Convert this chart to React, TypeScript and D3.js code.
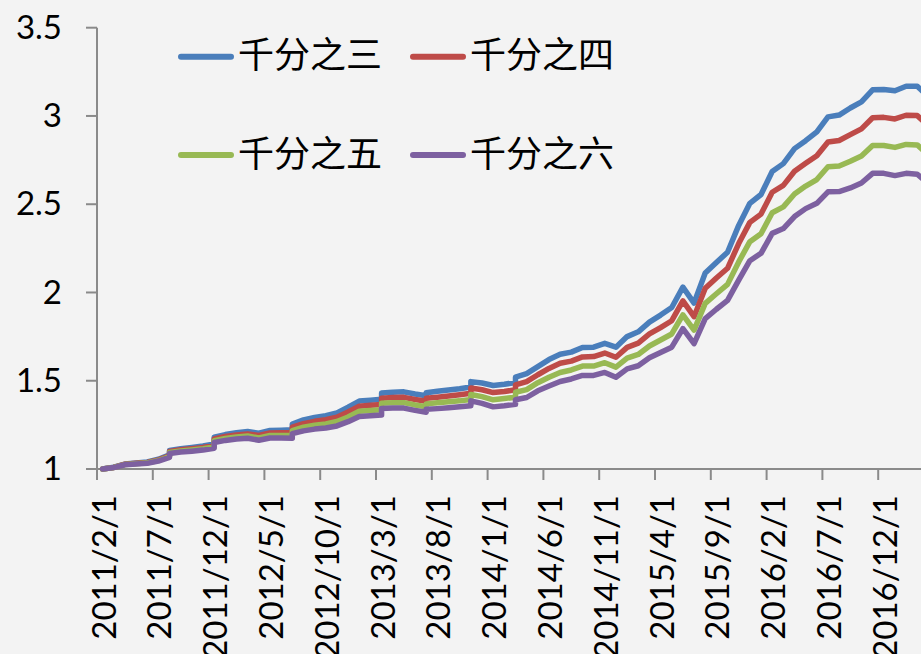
import React from 'react';
import * as d3 from 'd3';

const W = 921;
const H = 654;

// Observation dates (two points inside one month draw a vertical step, as on a month-based date axis)
const dates = [
  '2011/2/1', '2011/3/1', '2011/4/1', '2011/5/1', '2011/6/1', '2011/7/1',
  '2011/8/1', '2011/8/20',
  '2011/9/1', '2011/10/1', '2011/11/1',
  '2011/12/1', '2011/12/20',
  '2012/1/1', '2012/2/1', '2012/3/1', '2012/4/1', '2012/5/1', '2012/6/1',
  '2012/7/1', '2012/7/20',
  '2012/8/1', '2012/9/1', '2012/10/1', '2012/11/1', '2012/12/1', '2013/1/1', '2013/2/1',
  '2013/3/1', '2013/3/20',
  '2013/4/1', '2013/5/1', '2013/6/1',
  '2013/7/1', '2013/7/20',
  '2013/8/1', '2013/9/1', '2013/10/1',
  '2013/11/1', '2013/11/20',
  '2013/12/1', '2014/1/1', '2014/2/1',
  '2014/3/1', '2014/3/20',
  '2014/4/1', '2014/5/1', '2014/6/1', '2014/7/1', '2014/8/1', '2014/9/1', '2014/10/1', '2014/11/1', '2014/12/1',
  '2015/1/1', '2015/2/1', '2015/3/1', '2015/4/1', '2015/5/1', '2015/6/1', '2015/7/1', '2015/8/1', '2015/9/1', '2015/10/1', '2015/11/1', '2015/12/1',
  '2016/1/1', '2016/2/1', '2016/3/1', '2016/4/1', '2016/5/1', '2016/6/1', '2016/7/1', '2016/8/1', '2016/9/1', '2016/10/1', '2016/11/1', '2016/12/1',
  '2017/1/1', '2017/2/1', '2017/3/1', '2017/4/1',
];

const s3 = [
  1.000, 1.010, 1.028, 1.034, 1.040, 1.055,
  1.080, 1.105,
  1.115, 1.122, 1.130,
  1.142, 1.180,
  1.195, 1.205, 1.212, 1.203, 1.218, 1.220,
  1.222, 1.255,
  1.278, 1.292, 1.302, 1.318, 1.350, 1.385, 1.390,
  1.395, 1.430,
  1.435, 1.437, 1.425,
  1.415, 1.432,
  1.440, 1.448, 1.455,
  1.465, 1.495,
  1.487, 1.473, 1.480,
  1.490, 1.520,
  1.540, 1.580, 1.620, 1.650, 1.662, 1.688, 1.690, 1.712, 1.690,
  1.750, 1.777, 1.832, 1.872, 1.915, 2.030, 1.940, 2.110, 2.170, 2.228, 2.380, 2.505,
  2.555, 2.685, 2.730, 2.815, 2.860, 2.910, 2.995, 3.005, 3.045, 3.080, 3.148, 3.150,
  3.143, 3.168, 3.168, 3.110,
];

const s4 = [
  1.000, 1.009, 1.027, 1.032, 1.037, 1.052,
  1.075, 1.099,
  1.109, 1.115, 1.122,
  1.134, 1.170,
  1.184, 1.193, 1.199, 1.190, 1.204, 1.205,
  1.206, 1.237,
  1.257, 1.270, 1.279, 1.293, 1.323, 1.356, 1.361,
  1.365, 1.401,
  1.405, 1.406, 1.394,
  1.384, 1.401,
  1.407, 1.414, 1.421,
  1.429, 1.459,
  1.449, 1.433, 1.439,
  1.449, 1.477,
  1.495, 1.534, 1.570, 1.599, 1.611, 1.635, 1.637, 1.657, 1.633,
  1.689, 1.713, 1.765, 1.801, 1.840, 1.952, 1.863, 2.024, 2.082, 2.137, 2.277, 2.397,
  2.444, 2.568, 2.607, 2.687, 2.732, 2.775, 2.853, 2.861, 2.894, 2.927, 2.990, 2.992,
  2.983, 3.004, 3.002, 2.945,
];

const s5 = [
  1.000, 1.009, 1.025, 1.030, 1.035, 1.048,
  1.071, 1.094,
  1.102, 1.108, 1.115,
  1.125, 1.160,
  1.173, 1.182, 1.187, 1.176, 1.190, 1.190,
  1.190, 1.218,
  1.237, 1.248, 1.255, 1.269, 1.295, 1.327, 1.331,
  1.336, 1.372,
  1.375, 1.376, 1.363,
  1.353, 1.369,
  1.375, 1.381, 1.386,
  1.394, 1.422,
  1.410, 1.392, 1.399,
  1.407, 1.435,
  1.450, 1.489, 1.520, 1.547, 1.561, 1.583, 1.583, 1.602, 1.577,
  1.628, 1.649, 1.697, 1.731, 1.765, 1.873, 1.787, 1.938, 1.993, 2.046, 2.173, 2.288,
  2.333, 2.452, 2.485, 2.558, 2.603, 2.640, 2.712, 2.716, 2.743, 2.773, 2.833, 2.833,
  2.822, 2.839, 2.836, 2.780,
];

const s6 = [
  1.000, 1.008, 1.024, 1.028, 1.032, 1.045,
  1.066, 1.088,
  1.096, 1.101, 1.107,
  1.117, 1.150,
  1.162, 1.170, 1.174, 1.163, 1.176, 1.175,
  1.174, 1.200,
  1.216, 1.226, 1.232, 1.244, 1.268, 1.298, 1.302,
  1.306, 1.343,
  1.345, 1.345, 1.332,
  1.322, 1.338,
  1.342, 1.347, 1.352,
  1.358, 1.386,
  1.372, 1.352, 1.358,
  1.366, 1.392,
  1.405, 1.443, 1.470, 1.496, 1.510, 1.530, 1.530, 1.547, 1.520,
  1.567, 1.585, 1.630, 1.660, 1.690, 1.795, 1.710, 1.852, 1.905, 1.955, 2.070, 2.180,
  2.222, 2.335, 2.362, 2.430, 2.475, 2.505, 2.570, 2.572, 2.592, 2.620, 2.675, 2.675,
  2.662, 2.675, 2.670, 2.615,
];

const seriesNames = ['千分之三', '千分之四', '千分之五', '千分之六'];
const seriesValues = [s3, s4, s5, s6];
const seriesColors = ['#4a7ebb', '#be4b48', '#98b954', '#7d60a0'];

const xTickLabels = [
  '2011/2/1', '2011/7/1', '2011/12/1', '2012/5/1', '2012/10/1', '2013/3/1', '2013/8/1',
  '2014/1/1', '2014/6/1', '2014/11/1', '2015/4/1', '2015/9/1', '2016/2/1', '2016/7/1', '2016/12/1',
];
const yTicks = [1, 1.5, 2, 2.5, 3, 3.5];
const yTickLabels = ['1', '1.5', '2', '2.5', '3', '3.5'];

const firstMonth = '2011/2/1';
const lastMonth = '2017/5/1';

const monthKey = (s: string) => {
  const [y, m] = s.split('/').map(Number);
  return y * 12 + (m - 1);
};

export default function App() {
  const plotLeft = 97;
  const monthW = 11.16;
  const k0 = monthKey(firstMonth);
  const k1 = monthKey(lastMonth);
  const months = d3.range(k0, k1 + 1);
  const x = d3.scaleBand<number>().domain(months).range([plotLeft, plotLeft + months.length * monthW]).paddingInner(0).paddingOuter(0);
  const y = d3.scaleLinear().domain([1, 3.5]).range([469, 27.7]);
  const cx = (s: string) => (x(monthKey(s)) as number) + x.bandwidth() / 2;

  const line = d3
    .line<number>()
    .x((_, i) => cx(dates[i]))
    .y((v) => y(v));

  const axisColor = '#8a8a8a';
  const font = 'Lato, "Open Sans", sans-serif';

  const tickKeys = xTickLabels.map(monthKey).concat([monthKey(lastMonth)]);

  return (
    <svg
      width={W}
      height={H}
      style={{ position: 'absolute', left: 0, top: 0, background: '#f3f3f3' }}
    >
      <rect x={0} y={0} width={W} height={H} fill="#f3f3f3" />
      {/* y axis */}
      <line x1={plotLeft} x2={plotLeft} y1={y(3.5)} y2={y(1)} stroke={axisColor} strokeWidth={2} />
      {yTicks.map((t, i) => (
        <g key={t}>
          <line x1={plotLeft - 11} x2={plotLeft} y1={y(t)} y2={y(t)} stroke={axisColor} strokeWidth={2} />
          <text
            x={62}
            y={y(t)}
            dy="0.34em"
            textAnchor="end"
            fontFamily={font}
            fontSize={33}
            fill="#000"
          >
            {yTickLabels[i]}
          </text>
        </g>
      ))}
      {/* x axis */}
      <line x1={plotLeft} x2={W} y1={y(1)} y2={y(1)} stroke={axisColor} strokeWidth={2} />
      {tickKeys.map((k) => (
        <line key={k} x1={x(k) as number} x2={x(k) as number} y1={y(1)} y2={y(1) + 11} stroke={axisColor} strokeWidth={2} />
      ))}
      {xTickLabels.map((lab) => {
        const px = cx(lab) + 13;
        const py = 495;
        return (
          <text
            key={lab}
            transform={`translate(${px},${py}) rotate(-90)`}
            textAnchor="end"
            fontFamily={font}
            fontSize={33}
            fill="#000"
          >
            {lab}
          </text>
        );
      })}
      {/* series */}
      {seriesValues.map((vals, i) => (
        <path
          key={seriesNames[i]}
          d={line(vals) as string}
          fill="none"
          stroke={seriesColors[i]}
          strokeWidth={5.5}
          strokeLinejoin="round"
          strokeLinecap="round"
        />
      ))}
      {/* legend */}
      {seriesNames.map((name, i) => {
        const col = i % 2;
        const row = Math.floor(i / 2);
        const lx = 181 + col * 232;
        const ly = 56.7 + row * 98.3;
        return (
          <g key={name}>
            <line x1={lx} x2={lx + 50} y1={ly} y2={ly} stroke={seriesColors[i]} strokeWidth={6} strokeLinecap="round" />
            <text
              x={lx + 57}
              y={ly + 11.5}
              fontFamily='"Noto Sans CJK SC", sans-serif'
              fontSize={36}
              fill="#000"
            >
              {name}
            </text>
          </g>
        );
      })}
    </svg>
  );
}
